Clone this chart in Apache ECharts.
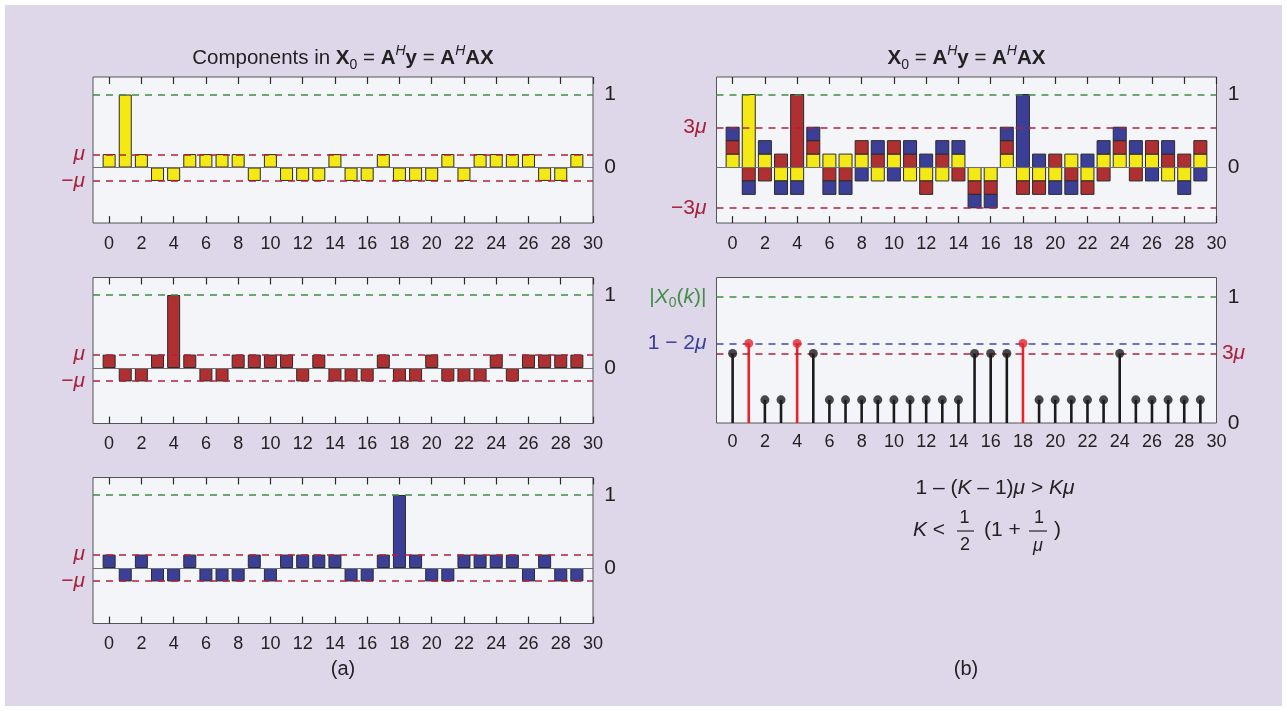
<!DOCTYPE html>
<html><head><meta charset="utf-8">
<script src="https://cdn.jsdelivr.net/npm/echarts@6/dist/echarts.min.js"></script>
<style>
html,body{margin:0;padding:0;background:#ffffff;}
#bg{position:absolute;left:5px;top:5px;width:1277px;height:701px;background:#ded7ea;}
#main{position:absolute;left:0;top:0;width:1287px;height:711px;}
</style></head><body>
<div id="bg"></div><div id="main"></div>
<script>
// ---------- data ----------
const indices = [0,1,2,3,4,5,6,7,8,9,10,11,12,13,14,15,16,17,18,19,20,21,22,23,24,25,26,27,28,29];
const xTickValues = [0,2,4,6,8,10,12,14,16,18,20,22,24,26,28,30];
const yellowComp = [0.184,1,0.184,-0.184,-0.184,0.184,0.184,0.184,0.184,-0.184,0.184,-0.184,-0.184,-0.184,0.184,-0.184,-0.184,0.184,-0.184,-0.184,-0.184,0.184,-0.184,0.184,0.184,0.184,0.184,-0.184,-0.184,0.184];
const redComp = [0.184,-0.184,-0.184,0.184,1,0.184,-0.184,-0.184,0.184,0.184,0.184,0.184,-0.184,0.184,-0.184,-0.184,-0.184,0.184,-0.184,-0.184,0.184,-0.184,-0.184,-0.184,0.184,-0.184,0.184,0.184,0.184,0.184];
const blueComp = [0.184,-0.184,0.184,-0.184,-0.184,0.184,-0.184,-0.184,-0.184,0.184,-0.184,0.184,0.184,0.184,0.184,-0.184,-0.184,0.184,1,0.184,-0.184,-0.184,0.184,0.184,0.184,0.184,-0.184,0.184,-0.184,-0.184];
const magnitude = [0.552,0.632,0.184,0.184,0.632,0.552,0.184,0.184,0.184,0.184,0.184,0.184,0.184,0.184,0.184,0.552,0.552,0.552,0.632,0.184,0.184,0.184,0.184,0.184,0.552,0.184,0.184,0.184,0.184,0.184];
const trueIndices = [1,4,18];
const muLevel = 0.184;
const threeMuLevel = 0.552;
const oneMinusTwoMuLevel = 0.632;
const oneLevel = 1;

// ---------- styles ----------
const FONT = '"Liberation Sans", Arial, Helvetica, sans-serif';
const C_YEL = '#f4e914', C_RED = '#b02f30', C_BLUE = '#3b3f98';
const C_GREEN_L = '#3d8e42', C_RED_L = '#b3203a', C_BLUE_L = '#4048ad';
const C_RED_T = '#a8213a', C_BLUE_T = '#3a3f9a', C_GREEN_T = '#3f8f45';
const TXT = '#222222';
const DASH = [7, 6];
const BAR_W = 13;
const Y_MIN = -0.76, Y_MAX = 1.24, TICK_LEN = 0.095;

const gridsPos = [
  {left: 93, top: 77, width: 500, height: 146},
  {left: 93, top: 277.5, width: 500, height: 146},
  {left: 93, top: 477.5, width: 500, height: 146},
  {left: 716.5, top: 77, width: 500, height: 146},
  {left: 716.5, top: 277.5, width: 500, height: 145.5}
];
const grid = gridsPos.map(p => Object.assign({show: true, backgroundColor: '#f4f5f8', borderColor: '#555', borderWidth: 1, containLabel: false}, p));

const xAxis = [];
gridsPos.forEach((p, g) => {
  xAxis.push({type: 'value', gridIndex: g, position: 'bottom', min: -1, max: 30,
    axisLine: {show: false, onZero: false}, splitLine: {show: false}, axisTick: {show: false},
    axisLabel: {customValues: xTickValues, fontSize: 18, fontFamily: FONT, color: TXT, margin: g < 4 ? 12 : 10}
  });
});

const near = (a, b) => Math.abs(a - b) < 1e-6;
const richCommon = {
  n: {fontSize: 21, fontFamily: FONT, color: C_RED_T},
  i: {fontSize: 21, fontFamily: FONT, color: C_RED_T, fontStyle: 'italic'},
  b: {fontSize: 21, fontFamily: FONT, color: C_BLUE_T},
  bi: {fontSize: 21, fontFamily: FONT, color: C_BLUE_T, fontStyle: 'italic'},
  g: {fontSize: 21, fontFamily: FONT, color: C_GREEN_T, lineHeight: 26},
  gi: {fontSize: 21, fontFamily: FONT, color: C_GREEN_T, fontStyle: 'italic', lineHeight: 26},
  gs: {fontSize: 14, fontFamily: FONT, color: C_GREEN_T, lineHeight: 12, verticalAlign: 'bottom'}
};
function leftY(g, min, max, vals, fmt) {
  return {type: 'value', gridIndex: g, position: 'left', min, max,
    axisLine: {show: false}, axisTick: {show: false}, splitLine: {show: false},
    axisLabel: {customValues: vals, formatter: fmt, margin: g < 3 ? 8 : 10, fontSize: 21, fontFamily: FONT, color: C_RED_T, rich: richCommon}};
}
function rightY(g, min, max, vals, fmt) {
  return {type: 'value', gridIndex: g, position: 'right', min, max,
    axisLine: {show: false}, axisTick: {show: false}, splitLine: {show: false},
    axisLabel: {customValues: vals, formatter: fmt, margin: 17, align: 'center', fontSize: 21, fontFamily: FONT, color: TXT, rich: richCommon}};
}
// y axes: index 2g = left, 2g+1 = right
const yAxis = [];
const muFmt = v => v > 0 ? '{i|μ}' : '{n|−}{i|μ}';
const plainFmt = v => String(Math.round(v));
for (let g = 0; g < 3; g++) {
  yAxis.push(leftY(g, Y_MIN, Y_MAX, [-muLevel, muLevel], muFmt));
  yAxis.push(rightY(g, Y_MIN, Y_MAX, [0, oneLevel], plainFmt));
}
yAxis.push(leftY(3, Y_MIN, Y_MAX, [-threeMuLevel, threeMuLevel], v => v > 0 ? '{n|3}{i|μ}' : '{n|−3}{i|μ}'));
yAxis.push(rightY(3, Y_MIN, Y_MAX, [0, oneLevel], plainFmt));
yAxis.push(leftY(4, 0, 1.155, [oneMinusTwoMuLevel, oneLevel], v => near(v, oneLevel) ? '{g||}{gi|X}{gs|0}{g|(}{gi|k}{g|)|}' : '{b|1 − 2}{bi|μ}'));
yAxis.push(rightY(4, 0, 1.155, [0, threeMuLevel, oneLevel], v => near(v, threeMuLevel) ? '{n|3}{i|μ}' : plainFmt(v)));

function hLine(y, color, dashed, width) {
  return {yAxis: y, lineStyle: {color, type: dashed ? DASH : 'solid', width: width || 1.5}};
}
// inside tick marks at top and bottom edges, as short segments in data coordinates
const tickStyle = {color: '#2a2a2a', type: 'solid', width: 1.2};
const tickSegs = [];
xTickValues.forEach(v => {
  tickSegs.push([{coord: [v, Y_MAX], lineStyle: tickStyle}, {coord: [v, Y_MAX - TICK_LEN]}]);
  tickSegs.push([{coord: [v, Y_MIN], lineStyle: tickStyle}, {coord: [v, Y_MIN + TICK_LEN]}]);
});
function markLines(lines, withTicks) {
  return {silent: true, symbol: ['none', 'none'], label: {show: false}, animation: false, emphasis: {disabled: true}, z: 10,
    data: withTicks ? lines.concat(tickSegs) : lines};
}
const barStyle = c => ({color: c, borderColor: '#2b2b2b', borderWidth: 1});
const pairs = arr => indices.map((k, i) => [k, arr[i]]);

const series = [];
const comps = [[yellowComp, C_YEL], [redComp, C_RED], [blueComp, C_BLUE]];
comps.forEach(([arr, col], g) => {
  series.push({type: 'bar', xAxisIndex: g, yAxisIndex: 2 * g, data: pairs(arr), barWidth: BAR_W, itemStyle: barStyle(col), silent: true,
    markLine: markLines([hLine(0, '#707070', false, 1), hLine(oneLevel, C_GREEN_L, true), hLine(muLevel, C_RED_L, true), hLine(-muLevel, C_RED_L, true)], true)});
});

// stacked sum panel: segments stacked by sign (yellow, red, blue order)
const posAcc = indices.map(() => 0), negAcc = indices.map(() => 0);
const stackedSegs = comps.map(([arr]) => indices.map((k, i) => {
  const v = arr[i];
  if (v >= 0) { const lo = posAcc[i]; posAcc[i] += v; return [k, lo, posAcc[i]]; }
  const hi = negAcc[i]; negAcc[i] += v; return [k, negAcc[i], hi];
}));
function stackedRect(color) {
  return function (params, api) {
    const k = api.value(0), lo = api.value(1), hi = api.value(2);
    const a = api.coord([k, hi]), b = api.coord([k, lo]);
    return {type: 'rect', shape: {x: a[0] - BAR_W / 2, y: a[1], width: BAR_W, height: b[1] - a[1]},
      style: {fill: color, stroke: '#2b2b2b', lineWidth: 1}};
  };
}
comps.forEach(([arr, col], j) => {
  series.push({type: 'custom', xAxisIndex: 3, yAxisIndex: 6, data: stackedSegs[j], encode: {x: 0, y: [1, 2]},
    renderItem: stackedRect(col), silent: true, z: 2});
});
series.push({type: 'line', xAxisIndex: 3, yAxisIndex: 6, data: [], silent: true, z: 5,
  markLine: markLines([hLine(0, '#707070', false, 1), hLine(oneLevel, C_GREEN_L, true), hLine(threeMuLevel, C_RED_L, true), hLine(-threeMuLevel, C_RED_L, true)], true)});

const stemColor = k => trueIndices.includes(k) ? '#e8232b' : '#1b1b1b';
const stemData = indices.map((k, i) => ({value: [k, magnitude[i]], itemStyle: {color: stemColor(k)}}));
series.push({type: 'bar', xAxisIndex: 4, yAxisIndex: 8, data: stemData, barWidth: 2.6, silent: true,
  markLine: markLines([hLine(oneLevel, C_GREEN_L, true), hLine(oneMinusTwoMuLevel, C_BLUE_L, true), hLine(threeMuLevel, C_RED_L, true)], false)});
series.push({type: 'scatter', xAxisIndex: 4, yAxisIndex: 8, data: stemData, symbol: 'circle', symbolSize: 9, silent: true, z: 12});

// ---------- texts ----------
const TS = 20.5;
const titleRich = {
  t: {fontSize: TS, fontFamily: FONT, fill: TXT, lineHeight: 28},
  b: {fontSize: TS, fontFamily: FONT, fill: TXT, fontWeight: 'bold', lineHeight: 28},
  s: {fontSize: 14, fontFamily: FONT, fill: TXT, lineHeight: 12, verticalAlign: 'bottom'},
  h: {fontSize: 14, fontFamily: FONT, fill: TXT, fontStyle: 'italic', lineHeight: 12, verticalAlign: 'top'}
};
const FS = 21;
const fRich = {
  n: {fontSize: FS, fontFamily: FONT, fill: TXT},
  i: {fontSize: FS, fontFamily: FONT, fill: TXT, fontStyle: 'italic'}
};
const smallRich = {
  n: {fontSize: 18, fontFamily: FONT, fill: TXT},
  i: {fontSize: 18, fontFamily: FONT, fill: TXT, fontStyle: 'italic'}
};
function txt(x, y, text, rich, align) {
  return {type: 'text', x, y, silent: true, style: {text, rich, align: align || 'center', verticalAlign: 'middle', fontSize: FS, fontFamily: FONT, fill: TXT}};
}
function ln(x1, x2, y) {
  return {type: 'line', silent: true, shape: {x1, y1: y, x2, y2: y}, style: {stroke: TXT, lineWidth: 1.2}};
}
const graphic = [
  txt(343, 58, '{t|Components in }{b|X}{s|0}{t| = }{b|A}{h|H}{b|y}{t| = }{b|A}{h|H}{b|AX}', titleRich),
  txt(966.5, 58, '{b|X}{s|0}{t| = }{b|A}{h|H}{b|y}{t| = }{b|A}{h|H}{b|AX}', titleRich),
  txt(995, 488, '{n|1 – (}{i|K}{n| – 1)}{i|μ}{n| > }{i|Kμ}', fRich),
  txt(913, 530, '{i|K}{n| <}', fRich, 'left'),
  txt(964.5, 518, '{n|1}', smallRich),
  ln(957, 974, 531),
  txt(965, 545, '{n|2}', smallRich),
  txt(984, 530, '{n|(1 +}', fRich, 'left'),
  txt(1039, 518, '{n|1}', smallRich),
  ln(1029, 1047, 531),
  txt(1038, 546, '{i|μ}', smallRich),
  txt(1054, 530, '{n|)}', fRich, 'left'),
  txt(343, 669, '{n|(a)}', {n: {fontSize: 20, fontFamily: FONT, fill: TXT}}),
  txt(966, 669, '{n|(b)}', {n: {fontSize: 20, fontFamily: FONT, fill: TXT}})
];

const chart = echarts.init(document.getElementById('main'), null, {renderer: 'canvas'});
chart.setOption({backgroundColor: 'transparent', animation: false, grid, xAxis, yAxis, series, graphic});
</script>
</body></html>
